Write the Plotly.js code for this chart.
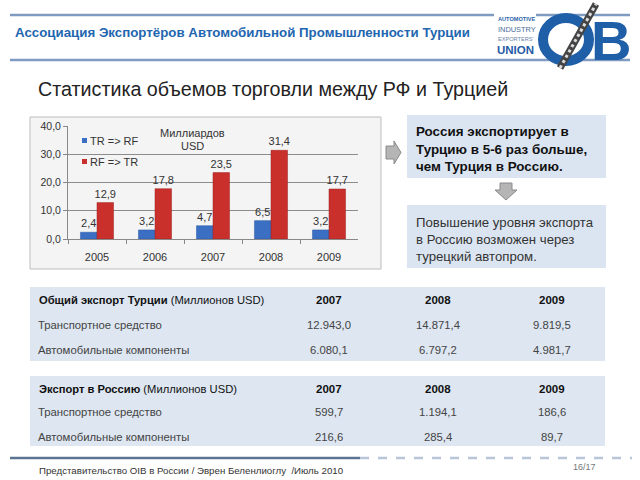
<!DOCTYPE html>
<html>
<head>
<meta charset="utf-8">
<script src="https://cdn.plot.ly/plotly-3.0.1.min.js"></script>
<style>html,body{margin:0;padding:0;background:#fff;}#chart{width:640px;height:480px;}</style>
</head>
<body>
<div id="chart"></div>
<script>
// ---- data ----
const years = ['2005', '2006', '2007', '2008', '2009'];
const trToRf = [2.4, 3.2, 4.7, 6.5, 3.2];
const rfToTr = [12.9, 17.8, 23.5, 31.4, 17.7];
const seriesNames = ['TR => RF', 'RF => TR'];
const yTicks = [0, 10, 20, 30, 40];

const tableYears = ['2007', '2008', '2009'];
const rowLabels = ['Транспортное средство', 'Автомобильные компоненты'];
const totalVehicles = [12943.0, 14871.4, 9819.5];
const totalParts = [6080.1, 6797.2, 4981.7];
const russiaVehicles = [599.7, 1194.1, 186.6];
const russiaParts = [216.6, 285.4, 89.7];

// ---- helpers ----
const W = 640, H = 480;
const X = p => p / W;
const Y = p => 1 - p / H;
const FONT = 'Liberation Sans, Arial, sans-serif';
function fmt(v) {
  const parts = v.toFixed(1).split('.');
  const intPart = parts[0].replace(/\B(?=(\d{3})+(?!\d))/g, '.');
  return intPart + ',' + parts[1];
}
const ann = [];
function txt(x, y, text, size, color, opts) {
  ann.push(Object.assign({
    xref: 'paper', yref: 'paper', x: X(x), y: Y(y), text: text,
    showarrow: false, xanchor: 'left', yanchor: 'middle',
    font: {family: FONT, size: size, color: color}
  }, opts || {}));
}
const shapes = [];
function rect(x0, y0, x1, y1, fill, line, lw, layer) {
  shapes.push({type: 'rect', xref: 'paper', yref: 'paper', x0: X(x0), x1: X(x1), y0: Y(y1), y1: Y(y0),
    fillcolor: fill, line: {color: line || 'rgba(0,0,0,0)', width: lw || 0}, layer: layer || 'below'});
}
function line(x0, y0, x1, y1, color, w, dash) {
  shapes.push({type: 'line', xref: 'paper', yref: 'paper', x0: X(x0), x1: X(x1), y0: Y(y0), y1: Y(y1),
    line: {color: color, width: w, dash: dash || 'solid'}, layer: 'below'});
}
function poly(pts, fill, lc) {
  const d = 'M' + pts.map(p => X(p[0]) + ',' + Y(p[1])).join(' L') + ' Z';
  shapes.push({type: 'path', xref: 'paper', yref: 'paper', path: d, fillcolor: fill, line: {color: lc, width: 1}, layer: 'above'});
}

// ---- header ----
line(10, 15, 630, 15, '#7f9bc2', 2.5);
line(10, 60, 630, 60, '#7f9bc2', 2.5);
txt(13, 33, '<b>Ассоциация Экспортёров Автомобильной Промышленности Турции</b>', 13.3, '#2266b0');
// logo
rect(494, 12, 536, 56, '#ffffff', null, 0, 'below');
txt(496, 19, '<b>AUTOMOTIVE</b>', 5.6, '#2a63ad');
txt(496, 29, 'INDUSTRY', 7.4, '#4a6d9c');
txt(496, 39, 'EXPORTERS\'', 5.6, '#6a85aa');
txt(495, 50, '<b>UNION</b>', 11.5, '#1f5ba6');
shapes.push({type: 'circle', xref: 'paper', yref: 'paper', x0: X(543), x1: X(589), y0: Y(61), y1: Y(18),
  line: {color: '#1f5fa8', width: 10}, layer: 'above'});
txt(611, 40, '<b>B</b>', 56, '#1f5fa8', {xanchor: 'center'});
shapes.push({type: 'line', xref: 'paper', yref: 'paper', x0: X(560), y0: Y(68), x1: X(596), y1: Y(4),
  line: {color: '#444', width: 7}, layer: 'above'});
shapes.push({type: 'line', xref: 'paper', yref: 'paper', x0: X(560), y0: Y(68), x1: X(596), y1: Y(4),
  line: {color: '#ddd', width: 3, dash: 'dot'}, layer: 'above'});

// ---- subtitle ----
txt(36, 89, 'Статистика объемов торговли между РФ и Турцией', 19.7, '#222');

// ---- chart frame ----
rect(30, 117, 381, 269, '#f4f4f4', '#bdbdbd', 1, 'below');
// custom legend
rect(82, 138, 87, 143, '#3a6fc4', null, 0, 'above');
rect(82, 159, 87, 164, '#c9302c', null, 0, 'above');
txt(88, 141, seriesNames[0], 11, '#333');
txt(88, 162, seriesNames[1], 11, '#333');
txt(192, 133, 'Миллиардов', 11, '#333', {xanchor: 'center'});
txt(192, 146, 'USD', 11, '#333', {xanchor: 'center'});

// ---- right boxes + arrows ----
poly([[386, 146], [394, 146], [394, 141], [401, 152.5], [394, 164], [394, 159], [386, 159]], '#b5b5b5', '#8a8a8a');
rect(407, 115, 606, 178, '#dbe5f1', null, 0, 'below');
txt(414, 131, '<b>Россия экспортирует в</b>', 13.4, '#111');
txt(414, 149, '<b>Турцию в 5-6 раз больше,</b>', 13.4, '#111');
txt(414, 166, '<b>чем Турция в Россию.</b>', 13.4, '#111');
poly([[500, 183], [512, 183], [512, 190], [517, 190], [506, 200], [495, 190], [500, 190]], '#b5b5b5', '#8a8a8a');
rect(407, 205, 606, 268, '#dbe5f1', null, 0, 'below');
txt(414, 222, 'Повышение уровня экспорта', 13.2, '#333');
txt(414, 239, 'в Россию возможен через', 13.2, '#333');
txt(414, 256, 'турецкий автопром.', 13.2, '#333');

// ---- tables ----
const colX = [329, 438, 552];
function table(top, bottom, rows, title, data) {
  rect(30, top, 605, bottom, '#dde6f1', null, 0, 'below');
  txt(37, rows[0], title, 11.2, '#111');
  tableYears.forEach((yr, i) => txt(colX[i], rows[0], '<b>' + yr + '</b>', 11.5, '#111', {xanchor: 'center'}));
  data.forEach((arr, r) => {
    txt(36, rows[r + 1], rowLabels[r], 11.3, '#444');
    arr.forEach((v, i) => txt(colX[i], rows[r + 1], fmt(v), 11.3, '#444', {xanchor: 'center'}));
  });
}
table(287, 361, [300, 325, 350], '<b>Общий экспорт Турции</b> (Миллионов USD)', [totalVehicles, totalParts]);
table(376, 446, [389, 412, 437], '<b>Экспорт в Россию</b> (Миллионов USD)', [russiaVehicles, russiaParts]);

// ---- footer ----
line(10, 458, 360, 458, '#5d7392', 2.5);
line(360, 458, 632, 458, '#b8c6d8', 2.5, 'dash');
txt(37, 470, 'Представительство OIB в России / Эврен Беленлиоглу  /Июль 2010', 9.7, '#333');
txt(598, 467, '16/17', 9, '#777', {xanchor: 'right'});

// ---- traces ----
const traces = [
  {type: 'bar', name: seriesNames[0], x: years, y: trToRf,
   marker: {color: '#3a6fc4', line: {color: '#2d5aa3', width: 0.5}},
   texttemplate: '%{y:.1f}', textposition: 'outside', cliponaxis: false, constraintext: 'none',
   textfont: {family: FONT, size: 11, color: '#333'}},
  {type: 'bar', name: seriesNames[1], x: years, y: rfToTr,
   marker: {color: '#c9302c', line: {color: '#9e2220', width: 0.5}},
   texttemplate: '%{y:.1f}', textposition: 'outside', cliponaxis: false, constraintext: 'none',
   textfont: {family: FONT, size: 11, color: '#333'}}
];

const layout = {
  width: W, height: H,
  margin: {l: 0, r: 0, t: 0, b: 0},
  paper_bgcolor: '#ffffff', plot_bgcolor: 'rgba(0,0,0,0)',
  separators: ',.',
  showlegend: false,
  barmode: 'group', bargap: 0.43, bargroupgap: 0,
  font: {family: FONT, size: 11, color: '#333'},
  xaxis: {domain: [X(68), X(358)], type: 'category', showline: true, linecolor: '#888',
    ticks: 'outside', tickson: 'boundaries', ticklen: 4, tickcolor: '#888',
    ticklabelstandoff: 8, tickfont: {family: FONT, size: 11, color: '#333'}, fixedrange: true},
  yaxis: {domain: [Y(239), Y(126)], range: [0, 40], tickvals: yTicks, tickformat: '.1f',
    showline: true, linecolor: '#888', ticks: 'outside', ticklen: 4, tickcolor: '#888',
    gridcolor: '#8c8c8c', gridwidth: 1, zeroline: false,
    tickfont: {family: FONT, size: 10.5, color: '#333'}, fixedrange: true},
  shapes: shapes,
  annotations: ann
};

Plotly.newPlot('chart', traces, layout, {staticPlot: true, displayModeBar: false});
</script>
</body>
</html>
